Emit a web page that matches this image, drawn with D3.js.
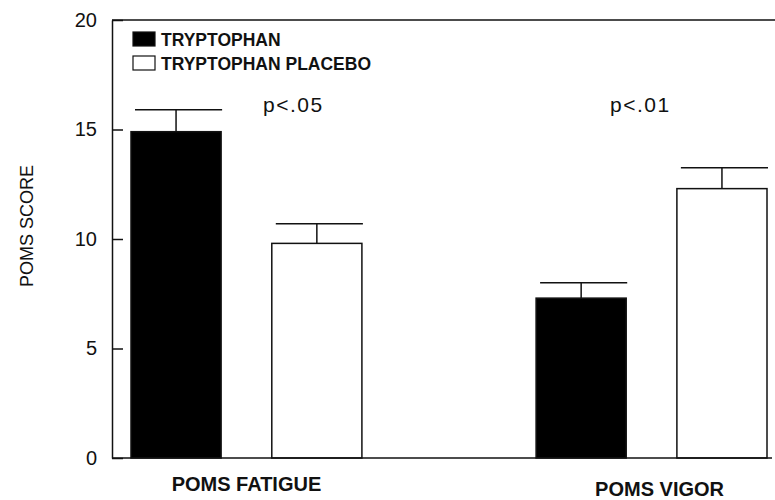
<!DOCTYPE html>
<html lang="en">
<head>
<meta charset="utf-8">
<title>poms</title>
<script src="https://cdn.jsdelivr.net/npm/d3@7"></script>
<style>
  body { margin: 0; background: #fff; }
  svg text { font-family: "Liberation Sans", Arial, sans-serif; fill: #111; }
  .axis path, .axis line { stroke: #111; stroke-width: 1.5px; }
</style>
</head>
<body>
<script>
// data
var groups = ["POMS FATIGUE", "POMS VIGOR"];
var seriesNames = ["TRYPTOPHAN", "TRYPTOPHAN PLACEBO"];
var tryptophanMeans = [14.9, 7.3];
var tryptophanErr = [1.0, 0.7];
var placeboMeans = [9.8, 12.3];
var placeboErr = [0.9, 0.95];
var pLabels = ["p<.05", "p<.01"];
var yTicks = [0, 5, 10, 15, 20];

var w = 775, h = 500;
var plotLeft = 112, plotTop = 20, plotBottom = 458;

var svg = d3.select("body").append("svg")
  .attr("width", w)
  .attr("height", h);

var y = d3.scaleLinear().domain([0, 20]).range([plotBottom, plotTop]);

var x0 = d3.scaleBand()
  .domain(groups)
  .range([131, 767])
  .paddingInner(0.43)
  .paddingOuter(0);

var x1 = d3.scaleBand()
  .domain(seriesNames)
  .range([0, x0.bandwidth()])
  .paddingInner(0.36)
  .paddingOuter(0);

var rows = [];
groups.forEach(function(g, i) {
  rows.push({group: g, series: seriesNames[0], mean: tryptophanMeans[i], err: tryptophanErr[i]});
  rows.push({group: g, series: seriesNames[1], mean: placeboMeans[i], err: placeboErr[i]});
});

var fills = {"TRYPTOPHAN": "#000", "TRYPTOPHAN PLACEBO": "#fff"};

// error bars (behind the bars)
var eb = svg.append("g").selectAll("g")
  .data(rows).enter().append("g");

eb.append("line")
  .attr("x1", function(d) { return x0(d.group) + x1(d.series) + x1.bandwidth() / 2; })
  .attr("x2", function(d) { return x0(d.group) + x1(d.series) + x1.bandwidth() / 2; })
  .attr("y1", function(d) { return y(d.mean); })
  .attr("y2", function(d) { return y(d.mean + d.err); })
  .attr("stroke", "#111").attr("stroke-width", 1.5);

eb.append("line")
  .attr("x1", function(d) { return x0(d.group) + x1(d.series) + 4; })
  .attr("x2", function(d) { return x0(d.group) + x1(d.series) + x1.bandwidth() + 1; })
  .attr("y1", function(d) { return y(d.mean + d.err); })
  .attr("y2", function(d) { return y(d.mean + d.err); })
  .attr("stroke", "#111").attr("stroke-width", 1.5);

// bars
svg.append("g").selectAll("rect")
  .data(rows).enter().append("rect")
  .attr("x", function(d) { return x0(d.group) + x1(d.series); })
  .attr("y", function(d) { return y(d.mean); })
  .attr("width", x1.bandwidth())
  .attr("height", function(d) { return y(0) - y(d.mean); })
  .attr("fill", function(d) { return fills[d.series]; })
  .attr("stroke", "#111")
  .attr("stroke-width", 1.5);

// y axis, ticks point inward
var yAxis = svg.append("g")
  .attr("class", "axis")
  .attr("transform", "translate(" + plotLeft + ",0)")
  .call(d3.axisLeft(y).tickValues(yTicks).tickSizeInner(-11).tickSizeOuter(0).tickPadding(15));
yAxis.selectAll("text").style("font-size", "20px");

// frame top and bottom lines
svg.append("line")
  .attr("x1", plotLeft).attr("x2", w)
  .attr("y1", y(20)).attr("y2", y(20))
  .attr("stroke", "#111").attr("stroke-width", 1.5);
svg.append("line")
  .attr("x1", plotLeft).attr("x2", w - 3)
  .attr("y1", y(0)).attr("y2", y(0))
  .attr("stroke", "#111").attr("stroke-width", 1.5);

// group labels
var labelY = [491, 496];
svg.append("g").selectAll("text")
  .data(groups).enter().append("text")
  .attr("x", function(d, i) { return x0(d) + x0.bandwidth() / 2 + (i === 0 ? 0 : 8); })
  .attr("y", function(d, i) { return labelY[i]; })
  .attr("text-anchor", "middle")
  .style("font-size", "20px")
  .style("font-weight", "bold")
  .text(function(d) { return d; });

// significance labels
var pOffsets = [132, 74];
svg.append("g").selectAll("text")
  .data(pLabels).enter().append("text")
  .attr("x", function(d, i) { return x0(groups[i]) + pOffsets[i]; })
  .attr("y", 112)
  .style("font-size", "21px")
  .style("letter-spacing", "1.5px")
  .text(function(d) { return d; });

// y title
svg.append("text")
  .attr("transform", "translate(33," + 226 + ") rotate(-90)")
  .attr("text-anchor", "middle")
  .style("font-size", "18px")
  .text("POMS SCORE");

// legend
var legend = svg.append("g").selectAll("g")
  .data(seriesNames).enter().append("g")
  .attr("transform", function(d, i) { return "translate(133," + (32 + i * 24) + ")"; });

legend.append("rect")
  .attr("width", 22).attr("height", 14)
  .attr("fill", function(d) { return fills[d]; })
  .attr("stroke", "#111").attr("stroke-width", 1.2);

legend.append("text")
  .attr("x", 28).attr("y", 14)
  .style("font-size", "17.5px")
  .style("font-weight", "bold")
  .text(function(d) { return d; });
</script>
</body>
</html>
